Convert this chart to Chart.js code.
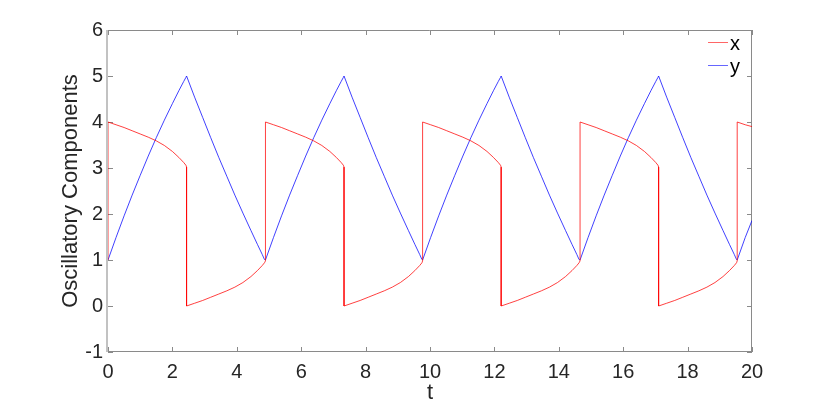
<!DOCTYPE html>
<html>
<head>
<meta charset="utf-8">
<script src="https://cdn.jsdelivr.net/npm/chart.js@4.4.1/dist/chart.umd.min.js"></script>
<style>
    html, body { margin: 0; padding: 0; background: #fff; }
    #wrap { width: 830px; height: 409px; }
</style>
</head>
<body>
<div id="wrap"><canvas id="chart" width="830" height="409"></canvas></div>
<script>
// Sample times. Repeated times mark the vertical jumps of x.
const tVals = [
    0,
    0, 0.25, 0.5, 0.75, 1, 1.25, 1.5, 1.75, 2, 2.2, 2.35, 2.42, 2.44,
    2.44, 2.69, 2.94, 3.19, 3.44, 3.69, 3.94, 4.19, 4.44, 4.64, 4.79, 4.86, 4.89,
    4.89, 5.14, 5.39, 5.64, 5.89, 6.14, 6.39, 6.64, 6.89, 7.09, 7.24, 7.31, 7.33,
    7.33, 7.58, 7.83, 8.08, 8.33, 8.58, 8.83, 9.08, 9.33, 9.53, 9.68, 9.75, 9.77,
    9.77, 10.02, 10.27, 10.52, 10.77, 11.02, 11.27, 11.52, 11.77, 11.97, 12.12, 12.19, 12.21,
    12.21, 12.46, 12.71, 12.96, 13.21, 13.46, 13.71, 13.96, 14.21, 14.41, 14.56, 14.63, 14.66,
    14.66, 14.91, 15.16, 15.41, 15.66, 15.91, 16.16, 16.41, 16.66, 16.86, 17.01, 17.08, 17.10,
    17.10, 17.35, 17.60, 17.85, 18.10, 18.35, 18.60, 18.85, 19.10, 19.30, 19.45, 19.52, 19.54,
    19.54, 19.79, 20
];

const xVals = [
    1.00,
    4.00, 3.94, 3.88, 3.81, 3.74, 3.67, 3.59, 3.49, 3.36, 3.23, 3.12, 3.06, 3.02,
    0.00, 0.06, 0.12, 0.19, 0.26, 0.33, 0.41, 0.51, 0.64, 0.77, 0.88, 0.94, 0.98,
    4.00, 3.94, 3.88, 3.81, 3.74, 3.67, 3.59, 3.49, 3.36, 3.23, 3.12, 3.06, 3.02,
    0.00, 0.06, 0.12, 0.19, 0.26, 0.33, 0.41, 0.51, 0.64, 0.77, 0.88, 0.94, 0.98,
    4.00, 3.94, 3.88, 3.81, 3.74, 3.67, 3.59, 3.49, 3.36, 3.23, 3.12, 3.06, 3.02,
    0.00, 0.06, 0.12, 0.19, 0.26, 0.33, 0.41, 0.51, 0.64, 0.77, 0.88, 0.94, 0.98,
    4.00, 3.94, 3.88, 3.81, 3.74, 3.67, 3.59, 3.49, 3.36, 3.23, 3.12, 3.06, 3.02,
    0.00, 0.06, 0.12, 0.19, 0.26, 0.33, 0.41, 0.51, 0.64, 0.77, 0.88, 0.94, 0.98,
    4.00, 3.94, 3.90
];

const yVals = [
    1.00,
    1.00, 1.49, 1.96, 2.41, 2.84, 3.26, 3.66, 4.04, 4.40, 4.68, 4.88, 4.97, 5.00,
    5.00, 4.54, 4.10, 3.66, 3.23, 2.82, 2.41, 2.02, 1.64, 1.34, 1.12, 1.01, 1.00,
    1.00, 1.49, 1.96, 2.41, 2.84, 3.26, 3.66, 4.04, 4.40, 4.68, 4.88, 4.97, 5.00,
    5.00, 4.54, 4.10, 3.66, 3.23, 2.82, 2.41, 2.02, 1.64, 1.34, 1.12, 1.01, 1.00,
    1.00, 1.49, 1.96, 2.41, 2.84, 3.26, 3.66, 4.04, 4.40, 4.68, 4.88, 4.97, 5.00,
    5.00, 4.54, 4.10, 3.66, 3.23, 2.82, 2.41, 2.02, 1.64, 1.34, 1.12, 1.01, 1.00,
    1.00, 1.49, 1.96, 2.41, 2.84, 3.26, 3.66, 4.04, 4.40, 4.68, 4.88, 4.97, 5.00,
    5.00, 4.54, 4.10, 3.66, 3.23, 2.82, 2.41, 2.02, 1.64, 1.34, 1.12, 1.01, 1.00,
    1.00, 1.49, 1.86
];

const seriesNames = ['x', 'y'];
const seriesColors = ['#ff0000', '#0000ff'];
const xTickVals = [0, 2, 4, 6, 8, 10, 12, 14, 16, 18, 20];
const yTickVals = [-1, 0, 1, 2, 3, 4, 5, 6];

const FONT = "'Liberation Sans', Arial, sans-serif";
const TEXT = '#262626';

// Box round the plot with inward tick marks on all four sides
const framePlugin = {
    id: 'frame',
    beforeDatasetsDraw(chart) {
        const { ctx, chartArea: { top, bottom, left, right }, scales: { x, y } } = chart;
        const len = 5;
        ctx.save();

        ctx.strokeStyle = '#8a8a8a';
        ctx.lineWidth = 1;
        ctx.beginPath();
        ctx.moveTo(left, bottom - 0.5);
        ctx.lineTo(right, bottom - 0.5);
        ctx.moveTo(left, top + 0.5);
        ctx.lineTo(right - 0.5, top + 0.5);
        ctx.lineTo(right - 0.5, bottom);
        for (const v of xTickVals) {
            const px = Math.round(x.getPixelForValue(v)) + 0.5;
            ctx.moveTo(px, bottom);
            ctx.lineTo(px, bottom - len);
            ctx.moveTo(px, top);
            ctx.lineTo(px, top + len);
        }
        for (const v of yTickVals) {
            const py = Math.round(y.getPixelForValue(v)) + 0.5;
            ctx.moveTo(left, py);
            ctx.lineTo(left + len, py);
            ctx.moveTo(right, py);
            ctx.lineTo(right - len, py);
        }
        ctx.stroke();

        // left axis comes out as a softer, wider grey line
        ctx.strokeStyle = '#c2c2c2';
        ctx.lineWidth = 2;
        ctx.beginPath();
        ctx.moveTo(left - 1, top);
        ctx.lineTo(left - 1, bottom);
        ctx.stroke();
        ctx.restore();
    }
};

// Legend in the top right corner of the plot
const legendPlugin = {
    id: 'cornerLegend',
    afterDatasetsDraw(chart) {
        const { ctx, chartArea: { top, right } } = chart;
        ctx.save();
        ctx.font = `20px ${FONT}`;
        ctx.textAlign = 'left';
        ctx.textBaseline = 'alphabetic';
        chart.data.datasets.forEach((ds, i) => {
            const ly = top + 12.5 + i * 23;
            ctx.strokeStyle = ds.borderColor;
            ctx.globalAlpha = 0.6;
            ctx.lineWidth = 1;
            ctx.beginPath();
            ctx.moveTo(right - 44, ly);
            ctx.lineTo(right - 24, ly);
            ctx.stroke();
            ctx.globalAlpha = 1;
            ctx.fillStyle = '#000';
            ctx.fillText(ds.label, right - 22, ly + 7.5);
        });
        ctx.restore();
    }
};

const datasets = [xVals, yVals].map((vals, i) => ({
    label: seriesNames[i],
    data: vals.map((v, k) => ({ x: tVals[k], y: v })),
    borderColor: seriesColors[i],
    backgroundColor: seriesColors[i],
    borderWidth: 0.75,
    pointRadius: 0,
    fill: false,
    tension: 0
}));

new Chart(document.getElementById('chart').getContext('2d'), {
    type: 'line',
    data: { datasets },
    options: {
        responsive: false,
        animation: false,
        layout: { padding: { left: 0, top: 30, right: 78, bottom: 0 } },
        plugins: {
            legend: { display: false },
            tooltip: { enabled: false }
        },
        scales: {
            x: {
                type: 'linear',
                min: 0,
                max: 20,
                grid: { display: false, drawTicks: false },
                border: { display: false },
                afterBuildTicks: (s) => { s.ticks = xTickVals.map(v => ({ value: v })); },
                afterFit: (s) => { s.height = 57; },
                ticks: {
                    color: TEXT,
                    font: { family: FONT, size: 20 },
                    padding: 8,
                    maxRotation: 0,
                    autoSkip: false
                },
                title: {
                    display: true,
                    text: 't',
                    color: TEXT,
                    font: { family: FONT, size: 22 },
                    padding: { top: 0, bottom: 3 }
                }
            },
            y: {
                type: 'linear',
                min: -1,
                max: 6,
                grid: { display: false, drawTicks: false },
                border: { display: false },
                afterBuildTicks: (s) => { s.ticks = yTickVals.map(v => ({ value: v })); },
                afterFit: (s) => { s.width = 108; },
                ticks: {
                    color: TEXT,
                    font: { family: FONT, size: 20 },
                    padding: 5,
                    autoSkip: false
                },
                title: {
                    display: true,
                    text: 'Oscillatory Components',
                    color: TEXT,
                    font: { family: FONT, size: 22 },
                    padding: { top: 58, bottom: 0 }
                }
            }
        }
    },
    plugins: [framePlugin, legendPlugin]
});
</script>
</body>
</html>
